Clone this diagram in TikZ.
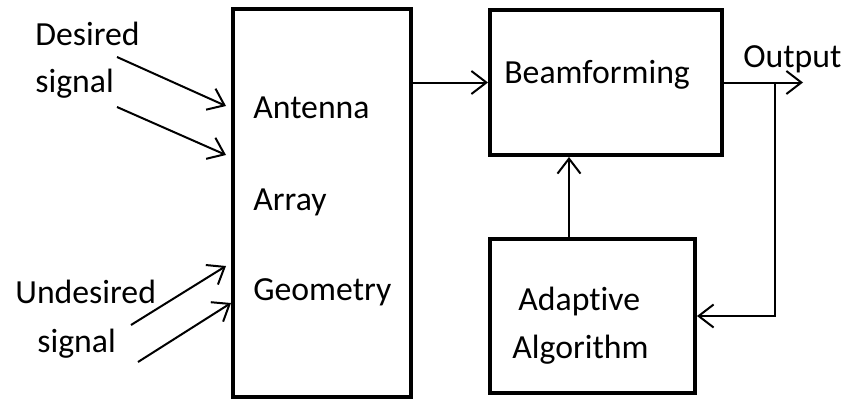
\documentclass[tikz,border=0pt]{standalone}
\usepackage{fontspec}
\setmainfont{Carlito}[Ligatures=NoCommon]
\usetikzlibrary{arrows.meta,positioning}

\begin{document}
\begin{tikzpicture}[
  x=0.02cm, y=-0.02cm,
  block/.style={draw, line width=0.08cm, inner sep=0pt},
  lbl/.style={anchor=base west, inner sep=0pt, font=\fontsize{19.2}{22}\selectfont},
  arrow/.style={-{Straight Barb[length=0.3cm, width=0.46cm]}, line width=0.04cm}
]
\useasboundingbox (0,0) rectangle (845,399);
% blocks
\node[block, minimum width=3.56cm, minimum height=7.76cm] (antenna) at (322,203) {};
\node[block, minimum width=4.64cm, minimum height=2.9cm] (beam) at (606,82.5) {};
\node[block, minimum width=4.1cm, minimum height=3.08cm] (adapt) at (592.5,316) {};
% texts
\node[lbl] (des1) at (35,45) {Desired};
\node[lbl] (des2) at (35,92) {signal};
\node[lbl] (und1) at (15,303) {Undesired};
\node[lbl] (und2) at (37,352) {signal};
\node[lbl] (ant1) at (253,118) {Antenna};
\node[lbl] (ant2) at (253,210) {Array};
\node[lbl] (ant3) at (253,300) {Geometry};
\node[lbl] (beamtxt) at (504,83) {Beamforming};
\node[lbl] (outtxt) at (743,67) {Output};
\node[lbl] (ada1) at (518,310) {Adaptive};
\node[lbl] (ada2) at (512,358) {Algorithm};
% free ends
\coordinate (d1) at (117,57);
\coordinate (d2) at (117,107);
\coordinate (u1) at (131,325);
\coordinate (u2) at (138,362);
\coordinate (out) at (803,82.5);
\coordinate (tap) at (775,82.5);
% connectors
\draw[arrow] (d1) -- (226,106);
\draw[arrow] (d2) -- (226,155);
\draw[arrow] (u1) -- (226,266);
\draw[arrow] (u2) -- (231,303);
\draw[arrow] (antenna.east |- beam.west) -- (beam.west);
\draw[arrow] (beam.east) -- (out);
\draw[arrow] (tap) |- (adapt.east);
\draw[arrow] (adapt.north -| 569,0) -- (beam.south -| 569,0);
\end{tikzpicture}
\end{document}
